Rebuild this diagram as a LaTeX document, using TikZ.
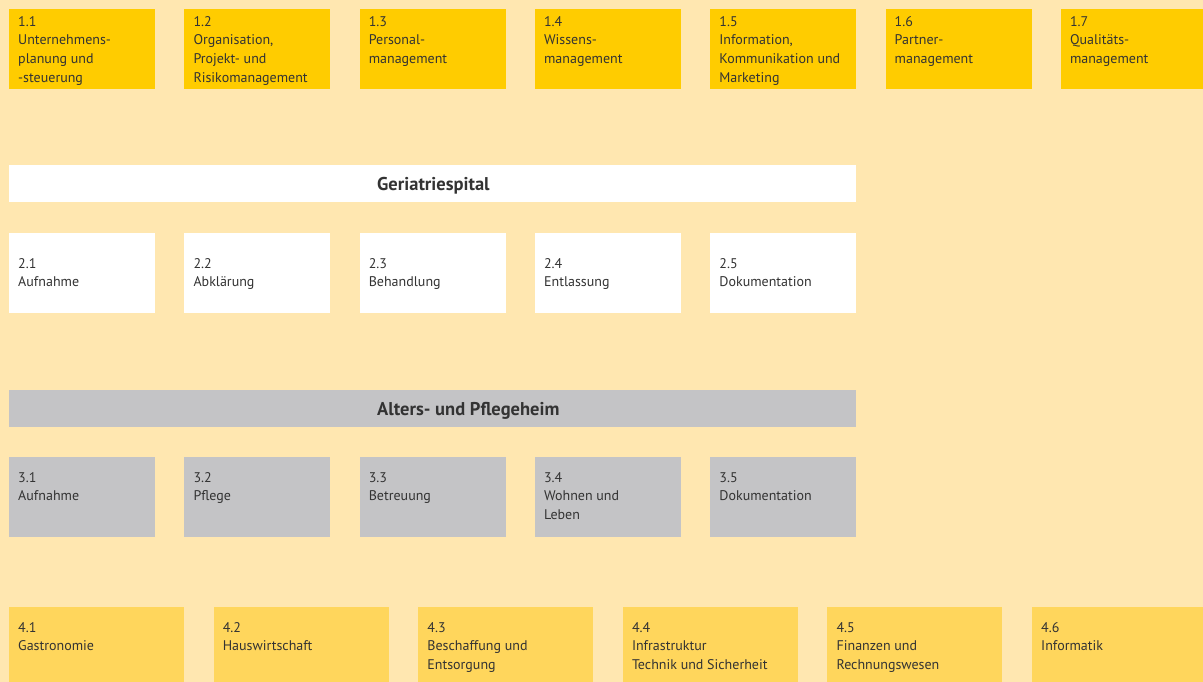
\documentclass[tikz,border=0pt]{standalone}
\usepackage{fontspec}
\setmainfont{PT Sans}
\usetikzlibrary{positioning}

\definecolor{bgcream}{RGB}{255,231,176}
\definecolor{mgmtyellow}{RGB}{255,204,0}
\definecolor{supyellow}{RGB}{255,214,92}
\definecolor{homegray}{RGB}{196,196,198}
\definecolor{textgray}{RGB}{51,51,51}

\begin{document}
\begin{tikzpicture}[x=1pt,y=-1pt,node distance=29.3pt,
    every node/.style={text=textgray,font=\fontsize{14}{18.7}\selectfont}]
    \tikzstyle{box}=[minimum width=146pt,minimum height=80pt,inner sep=0pt,
      anchor=north west,outer sep=0pt]
    \tikzstyle{lbl}=[anchor=north west,inner sep=0pt,align=left,xshift=9pt]
    \tikzstyle{mgmt}=[box,fill=mgmtyellow]
    \tikzstyle{spital}=[box,fill=white]
    \tikzstyle{heim}=[box,fill=homegray]
    \tikzstyle{support}=[box,fill=supyellow,minimum width=175pt]
    \tikzstyle{bar}=[minimum width=847pt,minimum height=37pt,inner sep=0pt,
      anchor=north west]
    \tikzstyle{barlbl}=[anchor=west,inner sep=0pt,xshift=368pt,yshift=-2.5pt,
      font=\fontsize{18.5}{22}\selectfont\bfseries]

    \useasboundingbox (0,0) rectangle (1203,682);
    \clip (0,0) rectangle (1203,682);
    \fill[bgcream] (0,0) rectangle (1203,682);

    % Managementprozesse
    \node [mgmt,label={[lbl,yshift=-7pt]north west:1.1\\Unternehmens-\\planung und\\-steuerung}]
      (m1) at (9,9) {};
    \node [mgmt,right=of m1,label={[lbl,yshift=-7pt]north west:1.2\\Organisation,\\Projekt- und\\Risikomanagement}]
      (m2) {};
    \node [mgmt,right=of m2,label={[lbl,yshift=-7pt]north west:1.3\\Personal-\\management}]
      (m3) {};
    \node [mgmt,right=of m3,label={[lbl,yshift=-7pt]north west:1.4\\Wissens-\\management}]
      (m4) {};
    \node [mgmt,right=of m4,label={[lbl,yshift=-7pt]north west:1.5\\Information,\\Kommunikation und\\Marketing}]
      (m5) {};
    \node [mgmt,right=of m5,label={[lbl,yshift=-7pt]north west:1.6\\Partner-\\management}]
      (m6) {};
    \node [mgmt,right=of m6,label={[lbl,yshift=-7pt]north west:1.7\\Qualit\"ats-\\management}]
      (m7) {};

    % Geriatriespital
    \node [bar,fill=white,label={[barlbl]west:Geriatriespital}] (spital) at (9,165) {};
    \node [spital,label={[lbl,yshift=-25pt]north west:2.1\\Aufnahme}] (s1) at (9,233) {};
    \node [spital,right=of s1,label={[lbl,yshift=-25pt]north west:2.2\\Abkl\"arung}] (s2) {};
    \node [spital,right=of s2,label={[lbl,yshift=-25pt]north west:2.3\\Behandlung}] (s3) {};
    \node [spital,right=of s3,label={[lbl,yshift=-25pt]north west:2.4\\Entlassung}] (s4) {};
    \node [spital,right=of s4,label={[lbl,yshift=-25pt]north west:2.5\\Dokumentation}] (s5) {};

    % Alters- und Pflegeheim
    \node [bar,fill=homegray,label={[barlbl]west:Alters- und Pflegeheim}] (heim) at (9,390) {};
    \node [heim,label={[lbl,yshift=-15pt]north west:3.1\\Aufnahme}] (h1) at (9,457) {};
    \node [heim,right=of h1,label={[lbl,yshift=-15pt]north west:3.2\\Pflege}] (h2) {};
    \node [heim,right=of h2,label={[lbl,yshift=-15pt]north west:3.3\\Betreuung}] (h3) {};
    \node [heim,right=of h3,label={[lbl,yshift=-15pt]north west:3.4\\Wohnen und\\Leben}] (h4) {};
    \node [heim,right=of h4,label={[lbl,yshift=-15pt]north west:3.5\\Dokumentation}] (h5) {};

    % Supportprozesse
    \begin{scope}[node distance=29.6pt]
    \node [support,label={[lbl,yshift=-15pt]north west:4.1\\Gastronomie}] (u1) at (9,607) {};
    \node [support,right=of u1,label={[lbl,yshift=-15pt]north west:4.2\\Hauswirtschaft}] (u2) {};
    \node [support,right=of u2,label={[lbl,yshift=-15pt]north west:4.3\\Beschaffung und\\Entsorgung}] (u3) {};
    \node [support,right=of u3,label={[lbl,yshift=-15pt]north west:4.4\\Infrastruktur\\Technik und Sicherheit}] (u4) {};
    \node [support,right=of u4,label={[lbl,yshift=-15pt]north west:4.5\\Finanzen und\\Rechnungswesen}] (u5) {};
    \node [support,right=of u5,label={[lbl,yshift=-15pt]north west:4.6\\Informatik}] (u6) {};
    \end{scope}
\end{tikzpicture}
\end{document}
